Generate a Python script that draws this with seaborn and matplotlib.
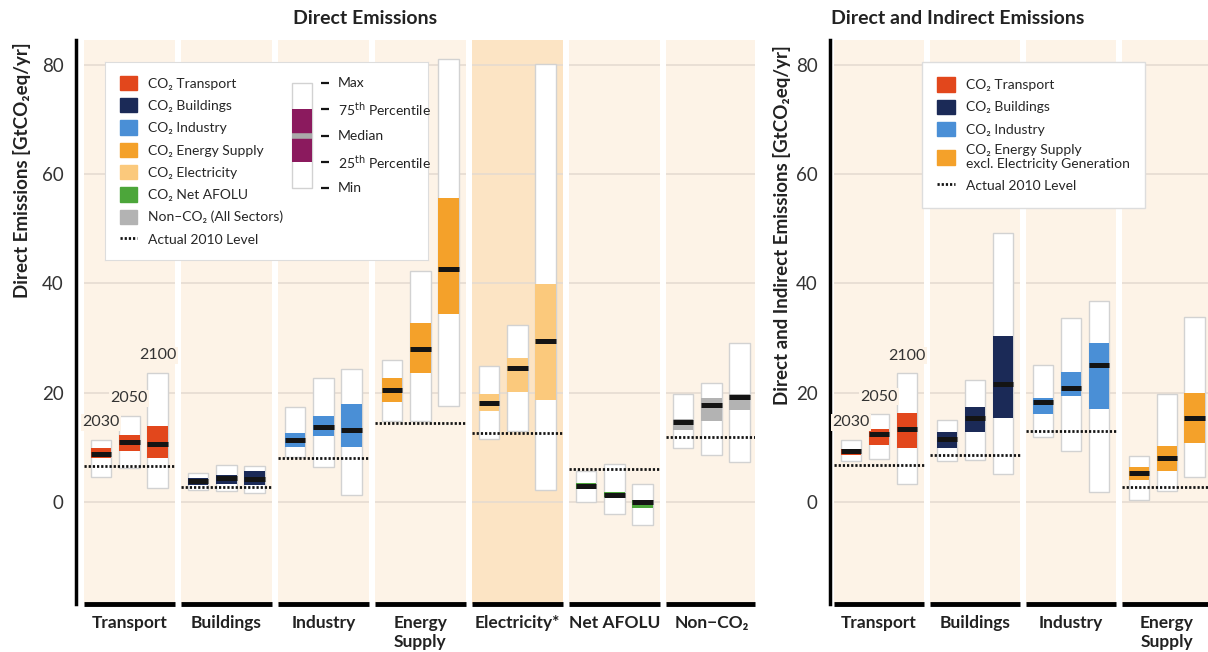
import numpy as np
import matplotlib
matplotlib.use('Agg')
import matplotlib.pyplot as plt
from matplotlib.patches import Patch
from matplotlib.lines import Line2D
import seaborn as sns

sns.set_style('white')
plt.rcParams['font.family'] = ['Liberation Sans Narrow', 'Lato', 'DejaVu Sans']

# ---- data (GtCO2eq/yr), per sector: [2030, 2050, 2100] ----
years = ['2030', '2050', '2100']

direct_sectors = ['Transport', 'Buildings', 'Industry', 'Energy\nSupply',
                  'Electricity*', 'Net AFOLU', 'Non\u2212CO\u2082']
direct_min = [[4.6, 6.2, 2.6], [2.2, 2.1, 1.6], [8.3, 6.4, 1.4], [14.8, 14.8, 17.6],
              [11.6, 13.1, 2.2], [0.1, -2.1, -4.2], [9.9, 8.6, 7.3]]
direct_q1 = [[8.1, 9.3, 8.0], [3.1, 3.3, 3.1], [10.1, 12.2, 10.1], [18.3, 23.7, 34.4],
             [16.6, 20.2, 18.7], [2.4, 0.9, -1.0], [13.2, 14.9, 16.9]]
direct_med = [[8.9, 11.0, 10.6], [3.9, 4.4, 4.3], [11.3, 13.7, 13.2], [20.6, 28.1, 42.6],
              [18.2, 24.5, 29.4], [3.0, 1.4, 0.1], [14.6, 17.8, 19.2]]
direct_q3 = [[10.0, 12.3, 14.0], [4.5, 4.9, 5.8], [12.6, 15.7, 17.9], [22.7, 32.8, 55.6],
             [19.8, 26.4, 39.9], [3.6, 1.9, 0.5], [15.3, 19.1, 19.7]]
direct_max = [[11.4, 15.8, 23.7], [5.4, 6.8, 6.6], [17.4, 22.7, 24.3], [26.0, 42.2, 81.0],
              [24.9, 32.4, 80.1], [5.7, 7.0, 3.4], [19.7, 21.8, 29.2]]
direct_2010 = [6.7, 2.8, 8.0, 14.5, 12.6, 6.0, 11.9]

total_sectors = ['Transport', 'Buildings', 'Industry', 'Energy\nSupply']
total_min = [[7.6, 7.9, 3.3], [7.6, 7.8, 5.2], [11.9, 9.4, 1.8], [0.5, 2.1, 4.6]]
total_q1 = [[8.6, 10.5, 10.0], [9.9, 12.8, 15.4], [16.2, 19.5, 17.0], [4.1, 5.7, 10.8]]
total_med = [[9.3, 12.4, 13.3], [11.6, 15.4, 21.6], [18.4, 20.9, 25.0], [5.3, 8.1, 15.4]]
total_q3 = [[9.8, 13.4, 16.4], [12.8, 17.5, 30.3], [19.1, 23.8, 29.2], [6.4, 10.2, 20.0]]
total_max = [[11.4, 16.1, 23.6], [15.1, 22.4, 49.2], [25.0, 33.7, 36.7], [8.4, 19.8, 33.9]]
total_2010 = [6.8, 8.7, 13.1, 2.7]

direct_colors = ['#E2471C', '#1B2A57', '#4A8FD6', '#F4A12A', '#FBC97C', '#4CA63A', '#B3B3B3']
direct_labels = ['CO\u2082 Transport', 'CO\u2082 Buildings', 'CO\u2082 Industry', 'CO\u2082 Energy Supply',
                 'CO\u2082 Electricity', 'CO\u2082 Net AFOLU', 'Non\u2013CO\u2082 (All Sectors)']
total_labels = ['CO\u2082 Transport', 'CO\u2082 Buildings', 'CO\u2082 Industry',
                'CO\u2082 Energy Supply\nexcl. Electricity Generation']

# schematic box for the legend: min, q1, median, q3, max
key_values = [0, 1, 2, 3, 4]
key_labels = ['Min', '25$^{\\rm th}$ Percentile', 'Median', '75$^{\\rm th}$ Percentile', 'Max']

BAND = '#FDF3E7'
BAND_HI = '#FCE4C4'
GRID_C = '#E4DAD0'
OFFS = np.array([-0.29, 0.0, 0.29])
BW = 0.21
YLIM = (-18.6, 84.5)


def draw_panel(ax, names, colors, lo, q1, med, q3, hi, lvl, xlim, shade=None):
    ax.set_xlim(*xlim)
    ax.set_ylim(*YLIM)
    for i in range(len(names)):
        b0 = max(i - 0.47, xlim[0])
        b1 = min(i + 0.47, xlim[1])
        ax.axvspan(b0, b1, color=BAND_HI if i == shade else BAND, lw=0, zorder=0)
        ax.hlines([0, 20, 40, 60, 80], b0, b1, color=GRID_C, lw=1.1, zorder=1)
        xs = i + OFFS
        lo_i, q1_i, med_i, q3_i, hi_i = map(np.array, (lo[i], q1[i], med[i], q3[i], hi[i]))
        ax.bar(xs, hi_i - lo_i, BW, bottom=lo_i, color='white', edgecolor='#D2D2D2', lw=1, zorder=2)
        ax.bar(xs, q3_i - q1_i, BW, bottom=q1_i, color=colors[i], lw=0, zorder=3)
        ax.hlines(med_i, xs - BW / 2, xs + BW / 2, color='#141414', lw=3.6, zorder=4)
        ax.hlines(lvl[i], b0, b1, color='#141414', lw=2, linestyles=(0, (0.8, 0.7)), zorder=5)
        ax.hlines(YLIM[0], b0, b1, color='black', lw=3.5, clip_on=False, zorder=6)
    # year labels above the first group
    for x, top, yr in zip(OFFS, hi[0], years):
        ax.text(x, top + 3.2, yr, ha='center', va='center', fontsize=11.5, color='#333333',
                bbox=dict(fc=BAND, ec='none', pad=1), zorder=3)
    ax.set_xticks(range(len(names)), labels=names, fontweight='bold', fontsize=12.5)
    ax.set_yticks([0, 20, 40, 60, 80])
    ax.tick_params(axis='x', length=0, pad=8, labelcolor='#222222')
    ax.tick_params(axis='y', length=0, pad=9, labelsize=13.5, labelcolor='#333333')
    for s in ['top', 'right', 'bottom']:
        ax.spines[s].set_visible(False)
    ax.spines['left'].set_color('black')
    ax.spines['left'].set_linewidth(2.5)
    ax.set_facecolor('white')


fig = plt.figure(figsize=(12.08, 6.52), dpi=100)
ax1 = fig.add_axes([76 / 1208, 1 - 604 / 652, 679 / 1208, 564 / 652])
ax2 = fig.add_axes([830 / 1208, 1 - 604 / 652, 378 / 1208, 564 / 652])

draw_panel(ax1, direct_sectors, direct_colors, direct_min, direct_q1, direct_med, direct_q3,
           direct_max, direct_2010, (-0.55, 6.45), shade=4)
draw_panel(ax2, total_sectors, direct_colors[:4], total_min, total_q1, total_med, total_q3,
           total_max, total_2010, (-0.51, 3.43))

dot_handle = Line2D([], [], color='#141414', lw=2, linestyle=(0, (0.8, 0.7)))

# left legend: framed inset with colour key + box schematic
leg_ax = ax1.inset_axes([29 / 679, 344 / 564, 323 / 679, 198 / 564], zorder=10)
leg_ax.set_xlim(0, 323)
leg_ax.set_ylim(-2.74, 4.8)
leg_ax.set_xticks([])
leg_ax.set_yticks([])
for s in leg_ax.spines.values():
    s.set_color('#DDDDDD')
handles = [Patch(color=c) for c in direct_colors] + [dot_handle]
leg_ax.legend(handles, direct_labels + ['Actual 2010 Level'], loc='upper left',
              bbox_to_anchor=(0.045, 0.93), frameon=False, fontsize=10, handlelength=1.25,
              handleheight=1.2, labelspacing=0.58, handletextpad=0.8, borderpad=0,
              borderaxespad=0)
leg_ax.bar(197, key_values[4] - key_values[0], 20, bottom=key_values[0], color='white',
           edgecolor='#D2D2D2', lw=1)
leg_ax.bar(197, key_values[3] - key_values[1], 20, bottom=key_values[1], color='#8B1A5E', lw=0)
leg_ax.hlines(key_values[2], 187, 207, color='#AAAAAA', lw=4)
leg_ax.hlines(key_values, 216, 224, color='#141414', lw=1.6)
for v, lab in zip(key_values, key_labels):
    leg_ax.text(233, v, lab, va='center', ha='left', fontsize=10, color='#222222')

# right legend
handles2 = [Patch(color=c) for c in direct_colors[:4]] + [dot_handle]
ax2.legend(handles2, total_labels + ['Actual 2010 Level'], loc='upper left',
           bbox_to_anchor=(92 / 378, 542 / 564), borderaxespad=0, fontsize=10,
           handlelength=1.25, handleheight=1.2, labelspacing=0.58, handletextpad=0.8,
           borderpad=1.1, fancybox=False, framealpha=1, edgecolor='#DDDDDD')

fig.text(365 / 1208, 1 - 18 / 652, 'Direct Emissions', ha='center', va='center',
         fontsize=14, fontweight='bold', color='#222222')
fig.text(958 / 1208, 1 - 18 / 652, 'Direct and Indirect Emissions', ha='center', va='center',
         fontsize=14, fontweight='bold', color='#222222')
fig.text(22 / 1208, 1 - 170 / 652, 'Direct Emissions [GtCO\u2082eq/yr]', rotation=90,
         ha='center', va='center', fontsize=13.5, fontweight='bold', color='#222222')
fig.text(782 / 1208, 1 - 225 / 652, 'Direct and Indirect Emissions [GtCO\u2082eq/yr]', rotation=90,
         ha='center', va='center', fontsize=13.5, fontweight='bold', color='#222222')

fig.savefig('out.png', dpi=100)
